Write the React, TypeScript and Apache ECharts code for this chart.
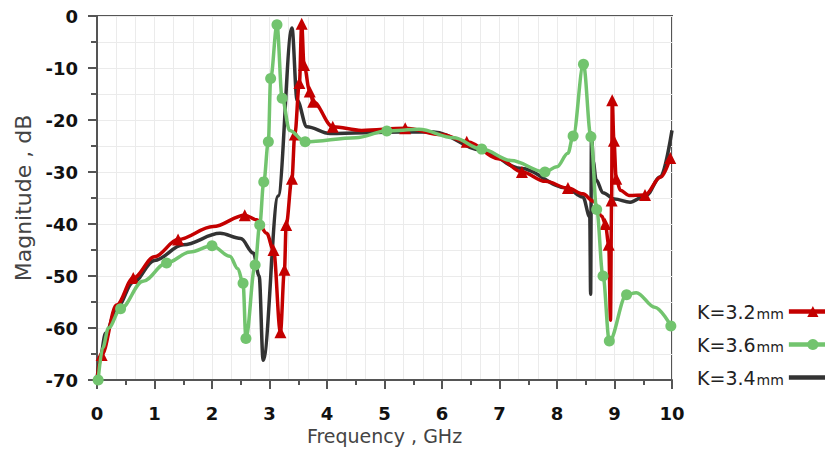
import React, { useEffect, useRef } from "react";
import * as echarts from "echarts";

// K = 3.2 mm (red, triangles); marked = 1 shows a marker
const k32Freq = [0.0, 0.08, 0.34, 0.63, 1.0, 1.41, 2.02, 2.57, 2.78, 2.95, 3.07, 3.19, 3.26, 3.29, 3.39, 3.44, 3.52, 3.56, 3.6, 3.7, 3.76, 4.1, 4.6, 5.36, 6.0, 6.43, 7.0, 7.39, 7.8, 8.19, 8.45, 8.63, 8.78, 8.84, 8.9, 8.93, 8.95, 8.96, 8.99, 9.03, 9.1, 9.25, 9.53, 9.8, 9.97];
const k32Mag = [-70, -65.2, -55.6, -50.4, -46.3, -43, -40.5, -38.3, -39.2, -41.8, -45, -60.8, -48.8, -40.2, -31.3, -22.8, -12.9, -1.5, -9.4, -14.5, -16.5, -21.3, -22, -21.6, -22.8, -24.2, -27.5, -30, -31.8, -33.1, -34.2, -35.6, -38.5, -40, -44, -58.5, -35.5, -16.2, -24, -31.3, -33.5, -34.5, -34.4, -31, -27.3];
const k32Marked = [0, 1, 0, 1, 0, 1, 0, 1, 0, 0, 1, 1, 1, 1, 1, 1, 1, 1, 1, 1, 1, 1, 0, 1, 0, 1, 0, 1, 0, 1, 0, 0, 0, 1, 1, 0, 1, 1, 1, 1, 0, 0, 1, 0, 1];

// K = 3.6 mm (green, circles)
const k36Freq = [0.02, 0.1, 0.2, 0.41, 0.8, 1.21, 1.62, 2.0, 2.31, 2.45, 2.54, 2.59, 2.75, 2.83, 2.9, 2.98, 3.02, 3.13, 3.22, 3.35, 3.62, 4.5, 5.04, 5.6, 6.2, 6.69, 7.2, 7.79, 8.0, 8.19, 8.28, 8.46, 8.59, 8.69, 8.8, 8.91, 9.21, 9.38, 9.7, 9.98];
const k36Mag = [-70, -63.8, -60, -56.3, -51, -47.5, -45.4, -44.2, -46.2, -48.6, -51.4, -62, -47.9, -40.2, -31.9, -24.2, -12, -1.7, -15.8, -22, -24.2, -23.4, -22.1, -21.8, -23.4, -25.6, -27.8, -30, -29, -26.4, -23.1, -9.3, -23.2, -37.2, -50, -62.5, -53.6, -53.2, -56, -59.6];
const k36Marked = [1, 0, 0, 1, 0, 1, 0, 1, 0, 0, 1, 1, 1, 1, 1, 1, 1, 1, 1, 0, 1, 0, 1, 0, 0, 1, 0, 1, 0, 0, 1, 1, 1, 1, 1, 1, 1, 0, 0, 1];

// K = 3.4 mm (dark grey, no markers)
const k34Freq = [0.0, 0.05, 0.15, 0.35, 0.63, 1.0, 1.5, 2.14, 2.5, 2.72, 2.82, 2.89, 3.15, 3.39, 3.48, 3.65, 4.05, 5.27, 5.85, 6.7, 7.36, 8.17, 8.45, 8.57, 8.585, 8.6, 8.63, 8.68, 8.8, 9.0, 9.27, 9.55, 9.8, 10.0];
const k34Mag = [-70, -66, -61, -56, -51.2, -47, -44, -41.8, -42.8, -45.6, -50, -66.2, -34.6, -2.3, -16.2, -21.3, -22.6, -22.3, -22.3, -25.8, -29.3, -33.1, -34.8, -38.6, -53.5, -22.5, -28, -31.5, -34, -35.2, -35.8, -34.5, -30.9, -22];

const legendNames = ["K=3.2mm", "K=3.6mm", "K=3.4mm"];
const xTicks = [0, 10, 1];
const yTicks = [-70, 0, 10];

const FONT = "'DejaVu Sans', 'Open Sans', sans-serif";

function build(freq: number[], mag: number[], marked?: number[]) {
  return freq.map((f, i) =>
    marked && marked[i]
      ? { value: [f, mag[i]] }
      : { value: [f, mag[i]], symbol: "none" }
  );
}

export default function App() {
  const ref = useRef<HTMLDivElement>(null);
  useEffect(() => {
    if (!ref.current) return;
    const chart = echarts.init(ref.current, undefined, { renderer: "svg" });
    const gridColor = "#ebebeb";
    const smooth = 0.35;
    chart.setOption({
      animation: false,
      backgroundColor: "#ffffff",
      grid: {
        left: 97,
        right: 153,
        top: 16,
        bottom: 71,
        show: true,
        borderColor: "#555",
        borderWidth: 2,
        backgroundColor: "transparent",
      },
      legend: {
        orient: "vertical",
        left: 692,
        top: 297,
        align: "right",
        itemWidth: 48,
        itemHeight: 14,
        itemGap: 14,
        lineStyle: { width: 4.5 },
        data: [
          { name: legendNames[0] },
          { name: legendNames[1] },
          { name: legendNames[2], itemStyle: { opacity: 0 } },
        ],
        formatter: (n: string) => `{a|${n.replace("mm", "")}}{b|mm}`,
        textStyle: {
          rich: {
            a: { fontFamily: FONT, fontSize: 19, color: "#222" },
            b: { fontFamily: FONT, fontSize: 14, color: "#222", padding: [4, 0, 0, 1] },
          },
        },
      },
      xAxis: [
        {
          type: "value",
          min: xTicks[0],
          max: xTicks[1],
          interval: xTicks[2],
          name: "Frequency , GHz",
          nameLocation: "middle",
          nameGap: 46,
          nameTextStyle: { fontFamily: FONT, fontSize: 19, color: "#444" },
          axisLine: { show: true, onZero: false, lineStyle: { color: "#555", width: 2 } },
          axisTick: { show: true, length: 9, lineStyle: { color: "#555", width: 2 } },
          minorTick: { show: true, splitNumber: 2, length: 5, lineStyle: { color: "#555", width: 2 } },
          axisLabel: { margin: 24, fontFamily: FONT, fontSize: 18, fontWeight: "bold", color: "#111" },
          splitLine: { show: false },
        },
        {
          type: "value",
          min: xTicks[0],
          max: xTicks[1],
          interval: xTicks[2],
          position: "bottom",
          axisLine: { show: false },
          axisTick: { show: false },
          axisLabel: { show: false },
          splitLine: { show: true, lineStyle: { color: gridColor, width: 1 } },
          minorTick: { show: false, splitNumber: 3 },
          minorSplitLine: { show: true, lineStyle: { color: gridColor, width: 1 } },
        },
      ],
      yAxis: {
        type: "value",
        min: yTicks[0],
        max: yTicks[1],
        interval: yTicks[2],
        name: "Magnitude , dB",
        nameLocation: "middle",
        nameGap: 58,
        nameTextStyle: { fontFamily: FONT, fontSize: 22, color: "#444" },
        axisLine: { show: true, onZero: false, lineStyle: { color: "#555", width: 2 } },
        axisTick: { show: true, length: 9, lineStyle: { color: "#555", width: 2 } },
        minorTick: { show: true, splitNumber: 2, length: 6, lineStyle: { color: "#555", width: 2 } },
        axisLabel: { margin: 19, fontFamily: FONT, fontSize: 18, fontWeight: "bold", color: "#111" },
        splitLine: { show: true, lineStyle: { color: gridColor, width: 1 } },
        minorSplitLine: { show: true, lineStyle: { color: gridColor, width: 1 } },
      },
      series: [
        {
          name: "K=3.4mm",
          type: "line",
          smooth,
          smoothMonotone: "x",
          symbol: "none",
          lineStyle: { color: "#333333", width: 3.5 },
          itemStyle: { color: "#333333" },
          data: build(k34Freq, k34Mag),
          z: 2,
        },
        {
          name: "K=3.2mm",
          type: "line",
          smooth,
          smoothMonotone: "x",
          symbol: "triangle",
          symbolSize: 12,
          showAllSymbol: true,
          lineStyle: { color: "#c40000", width: 3.5 },
          itemStyle: { color: "#c40000" },
          data: build(k32Freq, k32Mag, k32Marked),
          z: 3,
        },
        {
          name: "K=3.6mm",
          type: "line",
          smooth,
          smoothMonotone: "x",
          symbol: "circle",
          symbolSize: 11,
          showAllSymbol: true,
          lineStyle: { color: "#72c46e", width: 3.5 },
          itemStyle: { color: "#72c46e" },
          data: build(k36Freq, k36Mag, k36Marked),
          z: 4,
        },
      ],
    });
    return () => chart.dispose();
  }, []);
  return <div ref={ref} style={{ width: 825, height: 451, position: "absolute", left: 0, top: 0 }} />;
}
